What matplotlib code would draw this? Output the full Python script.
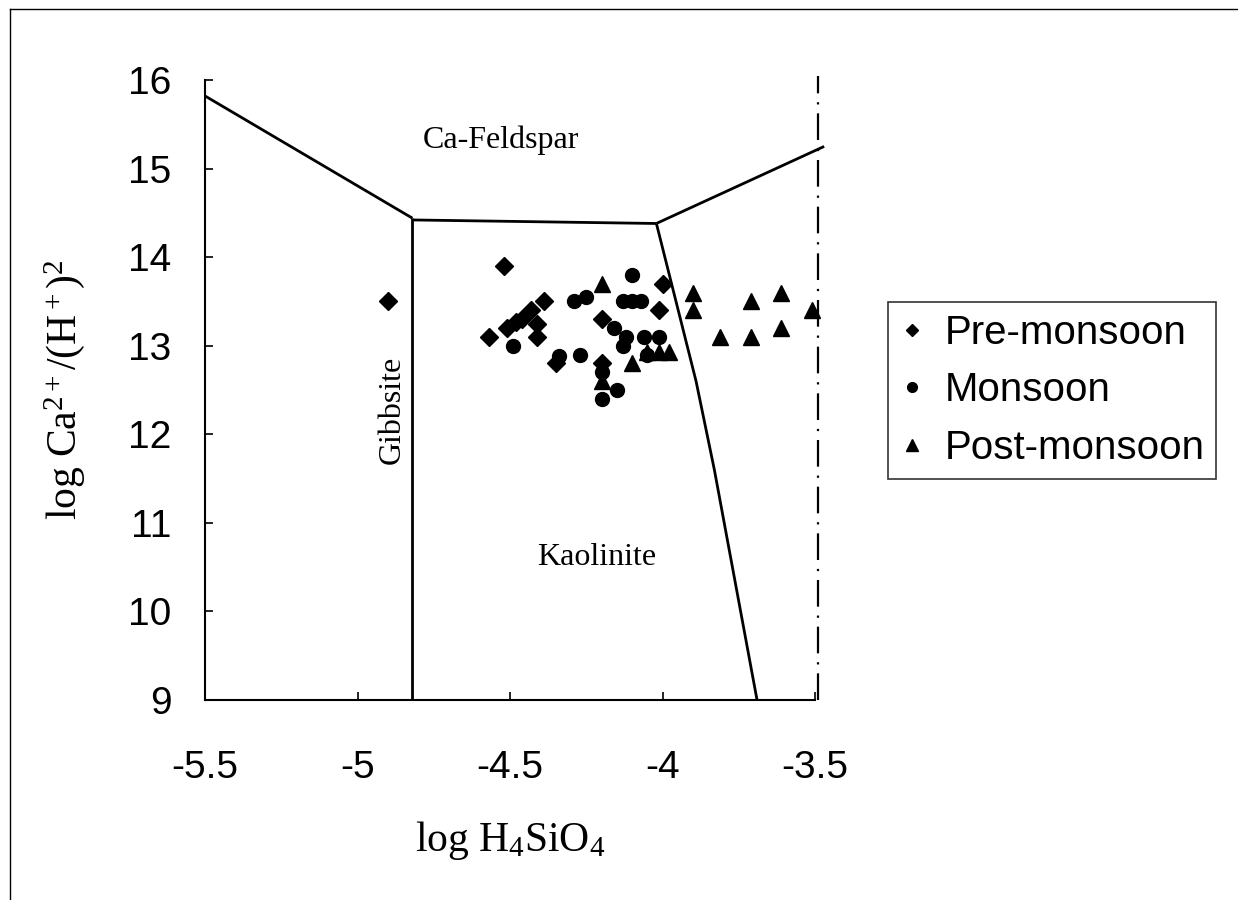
import matplotlib
matplotlib.use("Agg")
import matplotlib.pyplot as plt
from matplotlib.lines import Line2D
import numpy as np

plt.rcParams['mathtext.fontset'] = 'custom'
plt.rcParams['mathtext.rm'] = 'Liberation Serif'
plt.rcParams['mathtext.it'] = 'Liberation Serif:italic'

# stability field boundaries (log H4SiO4, log Ca2+/(H+)2)
feld_gibb_x = [-5.5, -4.82]
feld_gibb_y = [15.82, 14.44]
gibb_kaol_x = [-4.82, -4.82]
gibb_kaol_y = [14.44, 9.0]
feld_kaol_x = [-4.82, -4.02]
feld_kaol_y = [14.42, 14.38]
feld_mont_x = [-4.02, -3.47]
feld_mont_y = [14.38, 15.25]
kaol_mont_x = [-4.02, -3.89, -3.83, -3.69]
kaol_mont_y = [14.38, 12.6, 11.6, 9.0]
quartz_x = [-3.49, -3.49]
quartz_y = [9.0, 16.05]

# samples
pre_x = [-4.90, -4.52, -4.57, -4.51, -4.48, -4.46, -4.43, -4.39, -4.41, -4.41,
         -4.35, -4.20, -4.20, -4.00, -4.01]
pre_y = [13.5, 13.9, 13.1, 13.2, 13.27, 13.3, 13.4, 13.5, 13.25, 13.1,
         12.8, 13.3, 12.8, 13.7, 13.4]

mon_x = [-4.49, -4.34, -4.27, -4.29, -4.25, -4.10, -4.13, -4.10, -4.07, -4.16,
         -4.12, -4.13, -4.06, -4.01, -4.20, -4.15, -4.20, -4.05]
mon_y = [13.0, 12.88, 12.9, 13.5, 13.55, 13.8, 13.5, 13.5, 13.5, 13.2,
         13.1, 13.0, 13.1, 13.1, 12.7, 12.5, 12.4, 12.9]

post_x = [-4.20, -4.10, -4.20, -4.05, -4.01, -3.98, -3.90, -3.90, -3.71, -3.61,
          -3.51, -3.81, -3.71, -3.61]
post_y = [13.7, 12.8, 12.6, 12.93, 12.93, 12.93, 13.6, 13.4, 13.5, 13.6,
          13.4, 13.1, 13.1, 13.2]

xticks = [-5.5, -5, -4.5, -4, -3.5]
xtick_labels = ['-5.5', '-5', '-4.5', '-4', '-3.5']
yticks = [9, 10, 11, 12, 13, 14, 15, 16]

fig = plt.figure(figsize=(12.38, 9), dpi=100)
ax = fig.add_axes([205 / 1238, 200 / 900, 610 / 1238, 620 / 900])

lw = 2.0
for xs, ys in [(feld_gibb_x, feld_gibb_y), (gibb_kaol_x, gibb_kaol_y),
               (feld_kaol_x, feld_kaol_y), (feld_mont_x, feld_mont_y),
               (kaol_mont_x, kaol_mont_y)]:
    ax.plot(xs, ys, color='black', lw=lw, clip_on=False, solid_capstyle='butt')
ax.plot(quartz_x, quartz_y, color='black', lw=1.6, ls=(0, (12, 4, 1, 4)), clip_on=False)

ax.plot(pre_x, pre_y, 'D', color='black', ms=9, ls='none', clip_on=False)
ax.plot(mon_x, mon_y, 'o', color='black', ms=10, ls='none', clip_on=False)
ax.plot(post_x, post_y, '^', color='black', ms=12, ls='none', clip_on=False)

serif = 'Liberation Serif'
ax.text(-4.53, 15.32, 'Ca-Feldspar', family=serif, fontsize=23, ha='center', va='center')
ax.text(-4.215, 10.61, 'Kaolinite', family=serif, fontsize=23, ha='center', va='center')
ax.text(-4.887, 12.27, 'Gibbsite', family=serif, fontsize=23, ha='center', va='center',
        rotation=90)

ax.set_xlim(-5.5, -3.5)
ax.set_ylim(9, 16)
ax.set_xticks(xticks)
ax.set_xticklabels(xtick_labels)
ax.set_yticks(yticks)
for s in ['top', 'right']:
    ax.spines[s].set_visible(False)
for s in ['left', 'bottom']:
    ax.spines[s].set_linewidth(1.5)
ax.tick_params(axis='both', direction='in', length=6, width=1.2,
               labelsize=28, labelfontfamily='Liberation Sans')
ax.tick_params(axis='x', pad=36)
ax.tick_params(axis='y', pad=24)

ax.set_xlabel(r'$\mathrm{log\ H_4SiO_4}$', fontsize=30, labelpad=24)
ax.set_ylabel(r'$\mathrm{log\ Ca^{2+}/(H^+)^2}$', fontsize=30, labelpad=30)

handles = [
    Line2D([], [], marker='D', color='black', ls='none', ms=6),
    Line2D([], [], marker='o', color='black', ls='none', ms=7),
    Line2D([], [], marker='^', color='black', ls='none', ms=8),
]
leg = fig.legend(handles, ['Pre-monsoon', 'Monsoon', 'Post-monsoon'],
                 loc='upper left', bbox_to_anchor=(888 / 1238, 1 - 302 / 900),
                 prop={'family': 'Liberation Sans', 'size': 29},
                 frameon=True, fancybox=False, edgecolor='black',
                 handlelength=0.6, handletextpad=0.5, borderpad=0.3,
                 labelspacing=0.48, borderaxespad=0)
leg.get_frame().set_linewidth(1.2)

# page border from the scan
fig.add_artist(Line2D([10 / 1238, 10 / 1238], [0, 1 - 9 / 900], color='black', lw=1.0))
fig.add_artist(Line2D([10 / 1238, 1], [1 - 9 / 900, 1 - 9 / 900], color='black', lw=1.0))

fig.savefig('out.png', dpi=100)
